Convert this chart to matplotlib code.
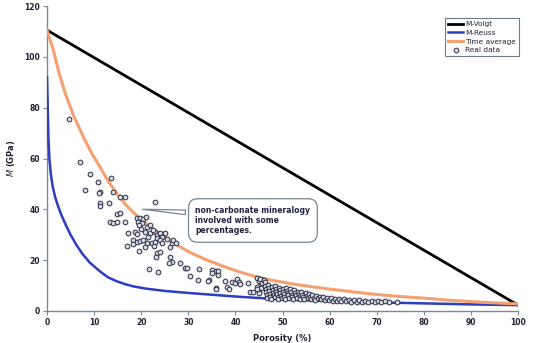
import matplotlib.pyplot as plt

# model curves
voigt_x = [0, 100]
voigt_y = [110.5, 2.3]

reuss_x = [0, 0.15, 0.3, 0.5, 0.8, 1.2, 1.7, 2.3, 3.0, 4.0, 5.0, 6.3, 7.5, 9.1, 11.3, 13.0, 14.8,
           16.5, 18.3, 21, 25, 30, 35, 40, 46, 52, 60, 70, 80, 90, 100]
reuss_y = [92, 80, 68, 60, 54, 49, 45, 41.5, 38, 33.8, 30, 25.8, 22.5, 19, 15.5, 13.2, 11.7,
           10.6, 9.7, 8.8, 7.9, 7.1, 6.4, 5.7, 5.0, 4.4, 3.9, 3.4, 3.0, 2.6, 2.3]

time_x = [0, 0.5, 1.3, 2.5, 3.8, 5.5, 7.7, 9.5, 11.3, 13, 14.8, 16.5, 18.3, 20, 21.9, 23.5, 25.4,
          28, 30.4, 34, 37.4, 41, 44.5, 48, 51.6, 56, 60.1, 65, 70, 75, 81.3, 85, 90, 95, 100]
time_y = [110.5, 107.5, 103, 94, 86, 77.5, 68.5, 62, 56.5, 51, 46.3, 42.3, 38.8, 36, 33.2, 31, 28.7,
          25.5, 23, 20, 17.6, 15.3, 13.4, 12, 10.8, 9.6, 8.6, 7.5, 6.5, 5.7, 4.9, 4.3, 3.7, 3.2, 2.8]

# measured samples
data_x = [4.7, 7.1, 9.1, 10.8, 13.6, 8.1, 11.3, 11.0, 14.0, 15.5, 16.6, 11.3, 11.3, 13.2, 22.9,
          14.8, 15.4, 13.4, 14.1, 14.8, 16.6, 16.9,
          19.0, 19.7, 20.4, 21.0, 19.4, 20.1, 19.6, 21.2, 21.9,
          18.7, 19.2, 20.8, 21.9, 22.9, 23.3, 24.0, 24.4, 25.1,
          18.3, 19.0, 19.7, 20.4, 21.2, 22.2, 22.9, 23.3, 24.0, 24.4,
          18.3, 19.5, 23.3, 23.1, 24.0, 26.1, 26.5, 26.7, 27.4,
          26.1, 26.5, 25.8, 28.2, 21.7, 23.5, 29.2, 29.8, 30.4, 32.3, 32.1, 34.4, 35.0, 35.9, 35.8,
          20.0, 22.5, 21.5, 22.8, 20.8, 25.5, 17.2,
          35.1, 36.2, 36.4, 34.2, 35.9, 37.8, 38.2, 38.7, 39.2, 39.9, 40.4, 40.8, 41.0,
          42.7, 43.1, 43.8, 44.5, 44.9, 45.2, 45.6, 45.9, 46.3,
          44.5, 44.9, 45.3, 45.6, 46.0, 46.3, 45.4, 45.0, 44.6,
          46.2, 46.4, 46.5, 46.6, 46.8, 47.0, 47.1, 47.2, 47.3, 47.4, 47.6, 47.8, 47.9, 48.0, 48.1,
          48.3, 48.5, 48.6, 48.7, 48.8, 49.0, 49.1, 49.3, 49.4, 49.5, 49.7, 49.8, 50.0, 50.1, 50.3,
          50.4, 50.6, 50.8, 50.9, 51.1, 51.2, 51.4, 51.6, 51.8, 51.9, 52.1, 52.3, 52.5, 52.7, 52.8,
          53.0, 53.2, 53.4, 53.6, 53.8, 54.0, 54.2, 54.4, 54.6, 54.9, 55.1, 55.3, 55.6, 55.8, 56.0,
          56.3, 56.6, 56.9, 57.2, 57.5, 57.9, 58.2, 58.6, 59.0, 59.4, 59.8, 60.2, 60.7, 61.1, 61.6,
          62.0, 62.5, 63.0, 63.5, 64.0, 64.6, 65.1, 65.7, 66.3, 66.9, 67.5, 68.2, 68.9, 69.6, 70.3,
          71.0, 71.8, 72.5, 74.3]
data_y = [75.4, 58.5, 53.9, 50.9, 52.4, 47.6, 46.9, 46.3, 46.8, 44.8, 45.0, 42.5, 41.3, 42.5, 43.0,
          38.2, 38.7, 34.9, 34.5, 34.9, 35.1, 25.7,
          36.5, 36.7, 36.1, 36.9, 35.1, 34.5, 33.8, 33.2, 33.8,
          31.2, 30.3, 31.0, 30.6, 31.2, 29.9, 30.6, 29.2, 30.8,
          27.9, 27.3, 27.5, 27.9, 26.6, 26.9, 27.3, 28.6, 27.9, 26.6,
          26.4, 23.6, 22.7, 21.4, 23.3, 25.3, 26.6, 27.9, 26.9,
          21.4, 19.4, 19.0, 19.0, 16.4, 15.2, 16.8, 16.8, 13.9, 16.4, 12.2, 12.2, 16.1, 15.9, 8.9,
          32.3, 32.0, 29.0, 25.5, 25.0, 28.5, 30.5,
          15.1, 15.9, 14.2, 11.9, 8.5, 11.9, 9.6, 8.5, 11.5, 10.9, 12.5, 11.5, 10.6,
          10.9, 7.6, 7.6, 9.6, 8.3, 11.5, 12.2, 10.9, 9.6,
          13.0, 11.8, 12.6, 11.0, 12.3, 11.4, 9.2, 7.0, 8.6,
          9.8, 8.6, 7.4, 6.2, 5.3, 10.2, 9.0, 7.9, 6.8, 5.7, 4.9, 9.5, 8.3, 7.2, 6.3,
          5.4, 9.9, 8.8, 7.6, 6.6, 5.6, 4.8, 9.2, 8.1, 7.0, 6.0, 5.1, 8.7, 7.6, 6.5,
          5.5, 4.7, 9.1, 8.0, 7.0, 6.1, 5.2, 8.5, 7.4, 6.4, 5.5, 4.6, 8.1, 7.1, 6.2,
          5.3, 7.6, 6.7, 5.8, 4.9, 7.3, 6.4, 5.5, 4.6, 7.0, 6.0, 5.1, 6.6, 5.6, 4.7,
          6.3, 5.3, 4.5, 6.0, 5.0, 5.7, 4.6, 5.4, 4.4, 5.2, 4.2, 5.0, 4.1, 4.9, 4.0,
          4.7, 3.9, 4.6, 3.8, 4.4, 3.7, 4.3, 3.7, 4.2, 3.6, 4.1, 3.6, 4.0, 3.5, 3.9,
          3.5, 3.8, 3.4, 3.7]

x_ticks = list(range(0, 101, 10))
y_ticks = list(range(0, 121, 20))

fig = plt.figure(figsize=(5.38, 3.43), dpi=100)
ax = fig.add_axes([0.0874, 0.0933, 0.8756, 0.8892])

ax.plot(voigt_x, voigt_y, color='black', lw=2, label='M-Voigt', zorder=3)
ax.plot(reuss_x, reuss_y, color='#e070c0', lw=1, zorder=2)
ax.plot(reuss_x, reuss_y, color='#2b3fc4', lw=1.8, label='M-Reuss', zorder=3)
ax.plot(time_x, time_y, color='#f5a070', lw=2.2, label='Time average', zorder=3)
ax.plot(data_x, data_y, ls='none', marker='o', ms=3.4, mfc='#d8dce6', mec='#2a2e40', mew=0.7,
        label='Real data', zorder=4)

ax.set_xlim(0, 100)
ax.set_ylim(0, 120)
ax.set_xticks(x_ticks)
ax.set_yticks(y_ticks)
for s in ['top', 'right']:
    ax.spines[s].set_visible(False)
for s in ['left', 'bottom']:
    ax.spines[s].set_color('#7a8a9a')
    ax.spines[s].set_linewidth(1)
ax.tick_params(labelsize=5.5, colors='#7a8a9a', length=3, width=0.8, pad=2)
for lab in ax.get_xticklabels() + ax.get_yticklabels():
    lab.set_fontweight('bold')
    lab.set_color('#222233')

ax.set_xlabel('Porosity (%)', fontsize=6, fontweight='bold', color='#222233', labelpad=5)
ax.set_ylabel(r'$M$ (GPa)', fontsize=6, fontweight='bold', color='#222233', labelpad=5)

leg = ax.legend(loc='upper right', bbox_to_anchor=(1.005, 0.965), fontsize=5.3, frameon=True,
                fancybox=False, edgecolor='#4a5a6a', handlelength=2.0, borderpad=0.4,
                labelspacing=0.35, handletextpad=0.3, borderaxespad=0.2)
leg.get_frame().set_linewidth(0.8)
for t in leg.get_texts():
    t.set_color('#222233')

ax.annotate('non-carbonate mineralogy\ninvolved with some\npercentages.',
            xy=(19.7, 40.1), xytext=(31.5, 35.6),
            fontsize=5.5, fontweight='bold', color='#222244', va='center', ha='left',
            bbox=dict(boxstyle='round,pad=0.9,rounding_size=1.2', fc='white', ec='#7a8590', lw=0.9),
            arrowprops=dict(arrowstyle='wedge,tail_width=0.6,shrink_factor=0.5', fc='white',
                            ec='#7a8590', lw=0.9, relpos=(0, 0.75)),
            zorder=5)

fig.savefig('out.png', dpi=100)
